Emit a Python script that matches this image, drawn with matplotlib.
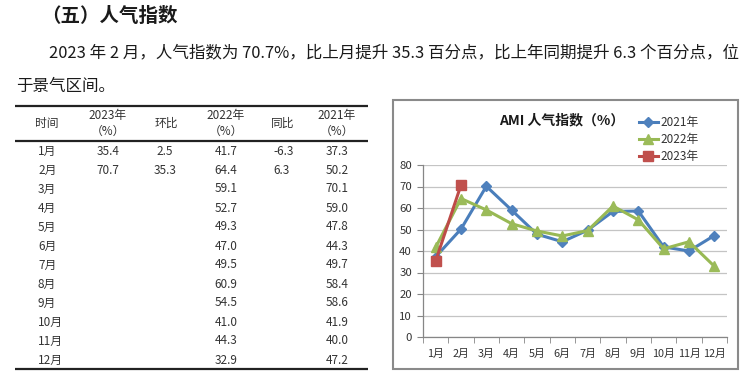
import numpy as np
import matplotlib
matplotlib.use("Agg")
import matplotlib.pyplot as plt
from matplotlib.lines import Line2D
from matplotlib.patches import Rectangle

plt.rcParams['font.family'] = ['Noto Sans CJK SC', 'DejaVu Sans']

# ---------------------------------------------------------------
# data
# ---------------------------------------------------------------
months = ['1月', '2月', '3月', '4月', '5月', '6月', '7月', '8月', '9月', '10月', '11月', '12月']
idx_2023 = [35.4, 70.7]
mom_2023 = [2.5, 35.3]
idx_2022 = [41.7, 64.4, 59.1, 52.7, 49.3, 47.0, 49.5, 60.9, 54.5, 41.0, 44.3, 32.9]
yoy_2023 = [-6.3, 6.3]
idx_2021 = [37.3, 50.2, 70.1, 59.0, 47.8, 44.3, 49.7, 58.4, 58.6, 41.9, 40.0, 47.2]

heading = '（五）人气指数'
para_1 = '2023 年 2 月，人气指数为 70.7%，比上月提升 35.3 百分点，比上年同期提升 6.3 个百分点，位'
para_2 = '于景气区间。'

W, H = 750, 373
fig = plt.figure(figsize=(W / 100, H / 100), dpi=100)


def fx(x):
    return x / W


def fy(y):
    return 1 - y / H


def hline(x0, x1, y, lw, color='#222222'):
    fig.add_artist(Line2D([fx(x0), fx(x1)], [fy(y), fy(y)], transform=fig.transFigure,
                          color=color, lw=lw, solid_capstyle='butt'))


# ---------------------------------------------------------------
# document text
# ---------------------------------------------------------------
fig.text(fx(41), fy(16), heading, fontsize=14, fontweight='bold', color='#1a1a1a', va='center', ha='left')
fig.text(fx(49), fy(53), para_1, fontsize=11.9, color='#1a1a1a', va='center', ha='left')
fig.text(fx(16), fy(86), para_2, fontsize=11.9, color='#1a1a1a', va='center', ha='left')

# ---------------------------------------------------------------
# table
# ---------------------------------------------------------------
tcol = '#333333'
tfs = 8.5
hline(15, 368, 106, 1.6)
hline(15, 368, 141, 1.6)
hline(15, 368, 369, 1.6)

col_x = [47, 108, 166, 226, 283, 337]
headers = ['时间', '2023年\n（%）', '环比', '2022年\n（%）', '同比', '2021年\n（%）']
for x, h in zip(col_x, headers):
    fig.text(fx(x), fy(123.5), h, fontsize=tfs, color=tcol, ha='center', va='center', linespacing=1.3)

for i, m in enumerate(months):
    y = fy(151 + 19 * i)
    fig.text(fx(38), y, m, fontsize=tfs, color=tcol, ha='left', va='center')
    fig.text(fx(226), y, f'{idx_2022[i]:.1f}', fontsize=tfs, color=tcol, ha='center', va='center')
    fig.text(fx(337), y, f'{idx_2021[i]:.1f}', fontsize=tfs, color=tcol, ha='center', va='center')
    if i < len(idx_2023):
        fig.text(fx(108), y, f'{idx_2023[i]:.1f}', fontsize=tfs, color=tcol, ha='center', va='center')
        fig.text(fx(165), y, f'{mom_2023[i]:.1f}', fontsize=tfs, color=tcol, ha='center', va='center')
        fig.text(fx(273), y, f'{yoy_2023[i]:.1f}', fontsize=tfs, color=tcol, ha='left', va='center')

# ---------------------------------------------------------------
# chart
# ---------------------------------------------------------------
fig.add_artist(Rectangle((fx(393), fy(369)), fx(738) - fx(393), fy(100) - fy(369),
                         transform=fig.transFigure, fill=False, edgecolor='#8a8a8a', lw=1.5))

ax = fig.add_axes([fx(423), fy(337), fx(727) - fx(423), fy(165) - fy(337)])
x = np.arange(len(months))
ax.plot(x, idx_2021, color='#4a7ebb', lw=2.2, marker='D', ms=5.5, mfc='#4f81bd', mec='#4f81bd', label='2021年')
ax.plot(x, idx_2022, color='#98b954', lw=2.2, marker='^', ms=7, mfc='#9bbb59', mec='#9bbb59', label='2022年')
ax.plot(x[:len(idx_2023)], idx_2023, color='#be4b48', lw=2.2, marker='s', ms=7, mfc='#c0504d', mec='#c0504d', label='2023年')

ax.set_xlim(-0.5, 11.5)
ax.set_ylim(0, 80)
ax.set_yticks(np.arange(0, 81, 10))
ax.set_xticks(x)
ax.set_xticklabels(months)
ax.set_xticks(np.arange(-0.5, 12, 1), minor=True)
ax.tick_params(axis='x', which='major', length=0, pad=8.5, labelsize=7.8, labelcolor='#333333')
ax.tick_params(axis='x', which='minor', length=4, color='#868686', direction='out')
ax.tick_params(axis='y', length=4, color='#868686', pad=4, labelsize=8.2, labelcolor='#333333')
ax.grid(axis='y', color='#c4c4c4', lw=0.9)
ax.set_axisbelow(True)
for s in ['top', 'right']:
    ax.spines[s].set_visible(False)
for s in ['left', 'bottom']:
    ax.spines[s].set_color('#868686')
    ax.spines[s].set_linewidth(0.9)

fig.text(fx(562), fy(120), 'AMI 人气指数（%）', fontsize=10, fontweight='bold', color='#1a1a1a', ha='center', va='center')
ax.legend(loc='upper left', bbox_to_anchor=(fx(639), fy(116)), bbox_transform=fig.transFigure,
          frameon=False, fontsize=8.5, handlelength=1.6, handletextpad=0.2, labelspacing=0.35,
          borderpad=0, borderaxespad=0, labelcolor='#333333')

fig.savefig('out.png', dpi=100, facecolor='white')
